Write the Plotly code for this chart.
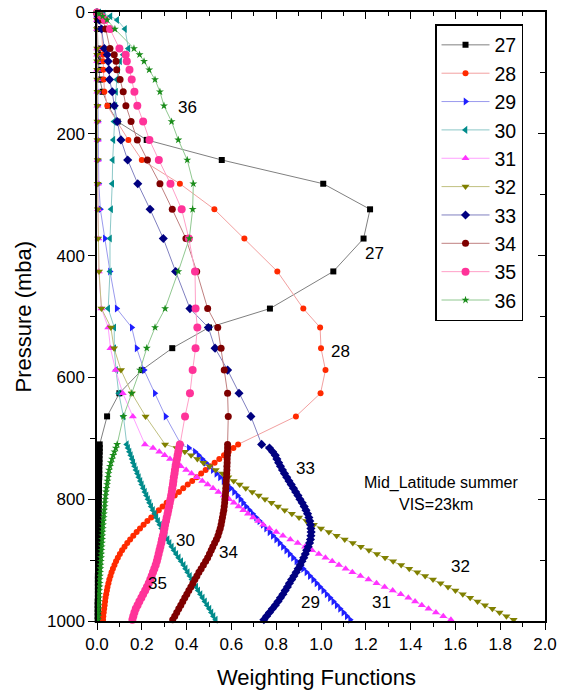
import plotly.graph_objects as go

# ---------------- data ----------------
channels = ["27", "28", "29", "30", "31", "32", "33", "34", "35", "36"]

# pressure levels (mb) of the sparse upper profile
sparse_p = [1, 3, 7, 13, 28, 60, 70, 81, 95, 111, 131, 154, 180, 210, 243, 282,
            324, 372, 426, 487, 518, 552, 588, 626, 664, 710]

# pressure levels (mb) of the dense lower profile
dense_p = [716, 722, 728, 734, 740, 746, 752, 758, 764, 770, 776, 782, 788, 794,
           800, 806, 812, 818, 824, 830, 836, 842, 848, 854, 860, 866, 872, 878,
           884, 890, 896, 902, 908, 914, 920, 926, 932, 938, 944, 950, 956, 962,
           968, 974, 980, 986, 992, 998]

ch27_sparse = [0, 0, 0, 0, 0.002, 0.004, 0.005, 0.007, 0.009, 0.013, 0.025, 0.05, 0.092,
               0.222, 0.557, 1.01, 1.219, 1.19, 1.055, 0.772, 0.5, 0.336, 0.2, 0.1, 0.045, 0.012]
ch27_dense = [0.012, 0.012, 0.011, 0.011, 0.011, 0.010, 0.010, 0.010, 0.010, 0.009,
              0.009, 0.009, 0.009, 0.008, 0.008, 0.008, 0.008, 0.008, 0.007, 0.007,
              0.007, 0.007, 0.007, 0.006, 0.006, 0.006, 0.006, 0.006, 0.006, 0.005,
              0.005, 0.005, 0.005, 0.005, 0.005, 0.004, 0.004, 0.004, 0.004, 0.004,
              0.004, 0.004, 0.003, 0.003, 0.003, 0.003, 0.003, 0.003]

ch28_sparse = [0, 0.002, 0.005, 0.01, 0.021, 0.025, 0.026, 0.027, 0.028, 0.03, 0.033, 0.046,
               0.09, 0.14, 0.2, 0.37, 0.524, 0.658, 0.805, 0.921, 0.996, 1.0, 1.02, 0.998,
               0.888, 0.63]
ch28_dense = [0.609, 0.588, 0.567, 0.546, 0.525, 0.505, 0.485, 0.465, 0.445, 0.425,
              0.405, 0.385, 0.366, 0.347, 0.329, 0.311, 0.293, 0.276, 0.259, 0.242,
              0.225, 0.208, 0.192, 0.177, 0.162, 0.148, 0.135, 0.123, 0.112, 0.102,
              0.093, 0.085, 0.078, 0.071, 0.065, 0.060, 0.055, 0.051, 0.047, 0.044,
              0.041, 0.038, 0.036, 0.034, 0.032, 0.030, 0.028, 0.027]

ch29_sparse = [0, 0, 0, 0.001, 0.002, 0.002, 0.002, 0.003, 0.003, 0.003, 0.004, 0.004,
               0.005, 0.006, 0.007, 0.008, 0.015, 0.035, 0.058, 0.088, 0.155, 0.177,
               0.21, 0.258, 0.306, 0.375]
ch29_dense = [0.41, 0.437, 0.453, 0.469, 0.485, 0.501, 0.517, 0.533, 0.549, 0.565,
              0.581, 0.597, 0.612, 0.627, 0.64, 0.652, 0.665, 0.68, 0.695, 0.71,
              0.725, 0.74, 0.755, 0.77, 0.785, 0.80, 0.815, 0.83, 0.845, 0.86,
              0.875, 0.89, 0.905, 0.92, 0.935, 0.95, 0.965, 0.98, 0.995, 1.01,
              1.025, 1.04, 1.055, 1.07, 1.085, 1.10, 1.115, 1.13]

ch30_sparse = [0.01, 0.03, 0.06, 0.09, 0.125, 0.14, 0.117, 0.103, 0.095, 0.088, 0.085,
               0.082, 0.076, 0.073, 0.07, 0.068, 0.063, 0.058, 0.058, 0.05, 0.077, 0.077,
               0.085, 0.097, 0.118, 0.133]
ch30_dense = [0.139, 0.145, 0.151, 0.157, 0.162, 0.168, 0.174, 0.181, 0.187, 0.194,
              0.20, 0.207, 0.214, 0.221, 0.228, 0.235, 0.242, 0.25, 0.258, 0.265,
              0.273, 0.281, 0.289, 0.297, 0.306, 0.315, 0.324, 0.334, 0.344, 0.354,
              0.365, 0.376, 0.387, 0.396, 0.405, 0.415, 0.424, 0.433, 0.443, 0.452,
              0.462, 0.472, 0.482, 0.492, 0.502, 0.511, 0.52, 0.53]

ch31_sparse = [0, 0, 0, 0, 0, 0.001, 0.001, 0.001, 0.001, 0.002, 0.002, 0.002, 0.003,
               0.003, 0.003, 0.004, 0.005, 0.006, 0.008, 0.02, 0.05, 0.06, 0.083, 0.115,
               0.16, 0.214]
ch31_dense = [0.25, 0.278, 0.302, 0.326, 0.35, 0.374, 0.398, 0.422, 0.446, 0.47,
              0.494, 0.518, 0.542, 0.566, 0.59, 0.611, 0.632, 0.653, 0.674, 0.697,
              0.72, 0.742, 0.77, 0.8, 0.83, 0.863, 0.896, 0.929, 0.96, 0.99,
              1.02, 1.05, 1.08, 1.11, 1.14, 1.176, 1.212, 1.248, 1.284, 1.32,
              1.356, 1.39, 1.42, 1.45, 1.48, 1.513, 1.546, 1.58]

ch32_sparse = [0, 0, 0, 0, 0, 0.001, 0.001, 0.001, 0.001, 0.001, 0.002, 0.002, 0.002,
               0.002, 0.003, 0.003, 0.004, 0.005, 0.009, 0.02, 0.062, 0.076, 0.107, 0.155,
               0.217, 0.304]
ch32_dense = [0.355, 0.392, 0.42, 0.448, 0.475, 0.502, 0.53, 0.56, 0.586, 0.61,
              0.637, 0.664, 0.693, 0.722, 0.75, 0.779, 0.808, 0.838, 0.87, 0.902,
              0.935, 0.968, 1.0, 1.035, 1.07, 1.106, 1.142, 1.178, 1.214, 1.25,
              1.286, 1.322, 1.358, 1.394, 1.43, 1.465, 1.5, 1.534, 1.567, 1.6,
              1.633, 1.666, 1.699, 1.732, 1.765, 1.797, 1.828, 1.86]

ch33_sparse = [0.0, 0.002, 0.005, 0.01, 0.02, 0.033, 0.046, 0.05, 0.054, 0.056, 0.068,
               0.077, 0.09, 0.107, 0.137, 0.182, 0.237, 0.296, 0.351, 0.415, 0.497, 0.527,
               0.583, 0.634, 0.687, 0.735]
ch33_dense = [0.77, 0.784, 0.796, 0.803, 0.811, 0.819, 0.828, 0.837, 0.847, 0.857,
              0.867, 0.877, 0.887, 0.897, 0.906, 0.916, 0.925, 0.933, 0.94, 0.946,
              0.95, 0.953, 0.955, 0.956, 0.955, 0.953, 0.949, 0.943, 0.936, 0.93,
              0.923, 0.915, 0.907, 0.898, 0.889, 0.879, 0.869, 0.859, 0.85, 0.84,
              0.83, 0.819, 0.808, 0.796, 0.783, 0.77, 0.757, 0.745]

ch34_sparse = [0.0, 0.005, 0.015, 0.025, 0.039, 0.058, 0.077, 0.085, 0.088, 0.103, 0.117,
               0.129, 0.152, 0.18, 0.225, 0.281, 0.336, 0.397, 0.445, 0.494, 0.539, 0.554,
               0.568, 0.583, 0.586, 0.583]
ch34_dense = [0.583, 0.582, 0.582, 0.581, 0.581, 0.58, 0.58, 0.579, 0.578, 0.577,
              0.576, 0.575, 0.574, 0.573, 0.571, 0.57, 0.568, 0.566, 0.563, 0.56,
              0.557, 0.554, 0.55, 0.545, 0.54, 0.533, 0.525, 0.517, 0.51, 0.502,
              0.494, 0.485, 0.475, 0.465, 0.455, 0.446, 0.437, 0.428, 0.419, 0.41,
              0.401, 0.392, 0.383, 0.374, 0.365, 0.356, 0.347, 0.338]

ch35_sparse = [0.0, 0.008, 0.02, 0.035, 0.058, 0.1, 0.128, 0.133, 0.145, 0.155, 0.167,
               0.18, 0.206, 0.234, 0.276, 0.328, 0.378, 0.41, 0.4375, 0.44, 0.448, 0.44,
               0.427, 0.415, 0.393, 0.37]
ch35_dense = [0.366, 0.363, 0.36, 0.357, 0.354, 0.351, 0.348, 0.346, 0.343, 0.341,
              0.339, 0.336, 0.334, 0.331, 0.328, 0.325, 0.322, 0.318, 0.315, 0.311,
              0.308, 0.304, 0.301, 0.298, 0.294, 0.29, 0.287, 0.283, 0.279, 0.275,
              0.271, 0.267, 0.262, 0.256, 0.25, 0.244, 0.238, 0.231, 0.223, 0.215,
              0.206, 0.198, 0.189, 0.181, 0.173, 0.167, 0.162, 0.158]

ch36_sparse = [0.0, 0.01, 0.025, 0.045, 0.08, 0.165, 0.19, 0.21, 0.233, 0.259, 0.281,
               0.299, 0.333, 0.363, 0.403, 0.43, 0.427, 0.412, 0.363, 0.304, 0.259, 0.222,
               0.192, 0.155, 0.118, 0.09]
ch36_dense = [0.084, 0.078, 0.072, 0.067, 0.062, 0.058, 0.054, 0.051, 0.049, 0.047,
              0.045, 0.042, 0.04, 0.038, 0.036, 0.035, 0.034, 0.032, 0.031, 0.03,
              0.028, 0.027, 0.026, 0.025, 0.024, 0.023, 0.022, 0.021, 0.02, 0.019,
              0.018, 0.017, 0.016, 0.015, 0.014, 0.013, 0.012, 0.012, 0.011, 0.01,
              0.009, 0.009, 0.008, 0.007, 0.007, 0.006, 0.006, 0.005]

x_ticks = [0.0, 0.2, 0.4, 0.6, 0.8, 1.0, 1.2, 1.4, 1.6, 1.8, 2.0]
y_ticks = [0, 200, 400, 600, 800, 1000]

series = {
    "27": (ch27_sparse, ch27_dense), "28": (ch28_sparse, ch28_dense),
    "29": (ch29_sparse, ch29_dense), "30": (ch30_sparse, ch30_dense),
    "31": (ch31_sparse, ch31_dense), "32": (ch32_sparse, ch32_dense),
    "33": (ch33_sparse, ch33_dense), "34": (ch34_sparse, ch34_dense),
    "35": (ch35_sparse, ch35_dense), "36": (ch36_sparse, ch36_dense),
}

# ---------------- styles ----------------
styles = {
    "27": dict(symbol="square", size=6, mc="#000000", lc="#808080"),
    "28": dict(symbol="circle", size=6, mc="#FF2A00", lc="#F2A0A0"),
    "29": dict(symbol="triangle-right", size=7, mc="#1F1FFF", lc="#9A9AEE"),
    "30": dict(symbol="triangle-left", size=7, mc="#008B8B", lc="#8CC8C8"),
    "31": dict(symbol="triangle-up", size=7, mc="#FF33FF", lc="#FFA0FF"),
    "32": dict(symbol="triangle-down", size=7, mc="#808000", lc="#C0C080"),
    "33": dict(symbol="diamond", size=7, mc="#000080", lc="#8080C0"),
    "34": dict(symbol="circle", size=7, mc="#7F0000", lc="#C08080"),
    "35": dict(symbol="circle", size=8, mc="#FF3399", lc="#FFA0C8"),
    "36": dict(symbol="star", size=6, mc="#1A8C1A", lc="#90C890"),
}

FONT = "Liberation Sans, Arial, sans-serif"

fig = go.Figure()
for ch in channels:
    sp, dn = series[ch]
    st = styles[ch]
    fig.add_trace(go.Scatter(
        x=sp + dn, y=sparse_p + dense_p, name=ch, mode="lines+markers",
        line=dict(color=st["lc"], width=1),
        marker=dict(symbol=st["symbol"], size=st["size"], color=st["mc"],
                    line=dict(width=0)),
        cliponaxis=False,
    ))

# dummy trace so the mirrored (inside-tick) axes are drawn
fig.add_trace(go.Scatter(x=[None], y=[None], xaxis="x2", yaxis="y2",
                         showlegend=False, hoverinfo="skip"))

axis_common = dict(showline=True, linecolor="black", linewidth=1.5, mirror=True,
                   showgrid=False, zeroline=False, ticks="outside", automargin=False,
                   tickcolor="black", tickwidth=1.3, ticklen=7,
                   tickfont=dict(family=FONT, size=17, color="black"))

fig.update_layout(
    width=561, height=694,
    margin=dict(l=97, r=16, t=12, b=73, autoexpand=False),
    paper_bgcolor="white", plot_bgcolor="white",
    font=dict(family=FONT, color="black"),
    xaxis=dict(range=[0, 2], tickvals=x_ticks, tickformat=".1f",
               minor=dict(dtick=0.1, ticks="outside", ticklen=4, tickcolor="black"),
               **axis_common),
    yaxis=dict(range=[1000, 0], tickvals=y_ticks,
               minor=dict(dtick=100, ticks="outside", ticklen=5, tickcolor="black"),
               **axis_common),
    xaxis2=dict(range=[0, 2], overlaying="x", side="top", showticklabels=False,
                showline=False, showgrid=False, zeroline=False, ticks="inside",
                automargin=False,
                tickvals=x_ticks, ticklen=7, tickwidth=1.3, tickcolor="black",
                minor=dict(dtick=0.1, ticks="inside", ticklen=4, tickcolor="black")),
    yaxis2=dict(range=[1000, 0], overlaying="y", side="right", showticklabels=False,
                showline=False, showgrid=False, zeroline=False, ticks="inside",
                automargin=False,
                tickvals=y_ticks, ticklen=7, tickwidth=1.3, tickcolor="black",
                minor=dict(dtick=100, ticks="inside", ticklen=5, tickcolor="black")),
    showlegend=True,
    legend=dict(x=0.7545, y=0.98, xanchor="left", yanchor="top",
                bordercolor="black", borderwidth=1.5, bgcolor="white",
                font=dict(family=FONT, size=19.5, color="black"),
                itemwidth=48, tracegroupgap=0),
)

# axis titles
fig.add_annotation(text="Weighting Functions", xref="paper", yref="paper",
                   x=0.491, y=-0.092, xanchor="center", yanchor="middle",
                   showarrow=False, font=dict(family=FONT, size=22, color="black"))
fig.add_annotation(text="Pressure (mba)", xref="paper", yref="paper",
                   x=-0.163, y=0.5, xanchor="center", yanchor="middle", textangle=-90,
                   showarrow=False, font=dict(family=FONT, size=22, color="black"))

# curve labels
labels = [("36", 0.402, 156), ("27", 1.237, 397), ("28", 1.089, 557),
          ("33", 0.929, 750), ("30", 0.393, 867), ("34", 0.585, 888),
          ("35", 0.272, 938), ("32", 1.621, 910), ("29", 0.955, 969),
          ("31", 1.268, 969)]
for txt, lx, ly in labels:
    fig.add_annotation(text=txt, x=lx, y=ly, showarrow=False,
                       font=dict(family=FONT, size=17, color="black"))

fig.add_annotation(text="Mid_Latitude summer", x=1.536, y=773, showarrow=False,
                   font=dict(family=FONT, size=16, color="black"))
fig.add_annotation(text="VIS=23km", x=1.513, y=808, showarrow=False,
                   font=dict(family=FONT, size=16, color="black"))

fig.write_html("out.html")
